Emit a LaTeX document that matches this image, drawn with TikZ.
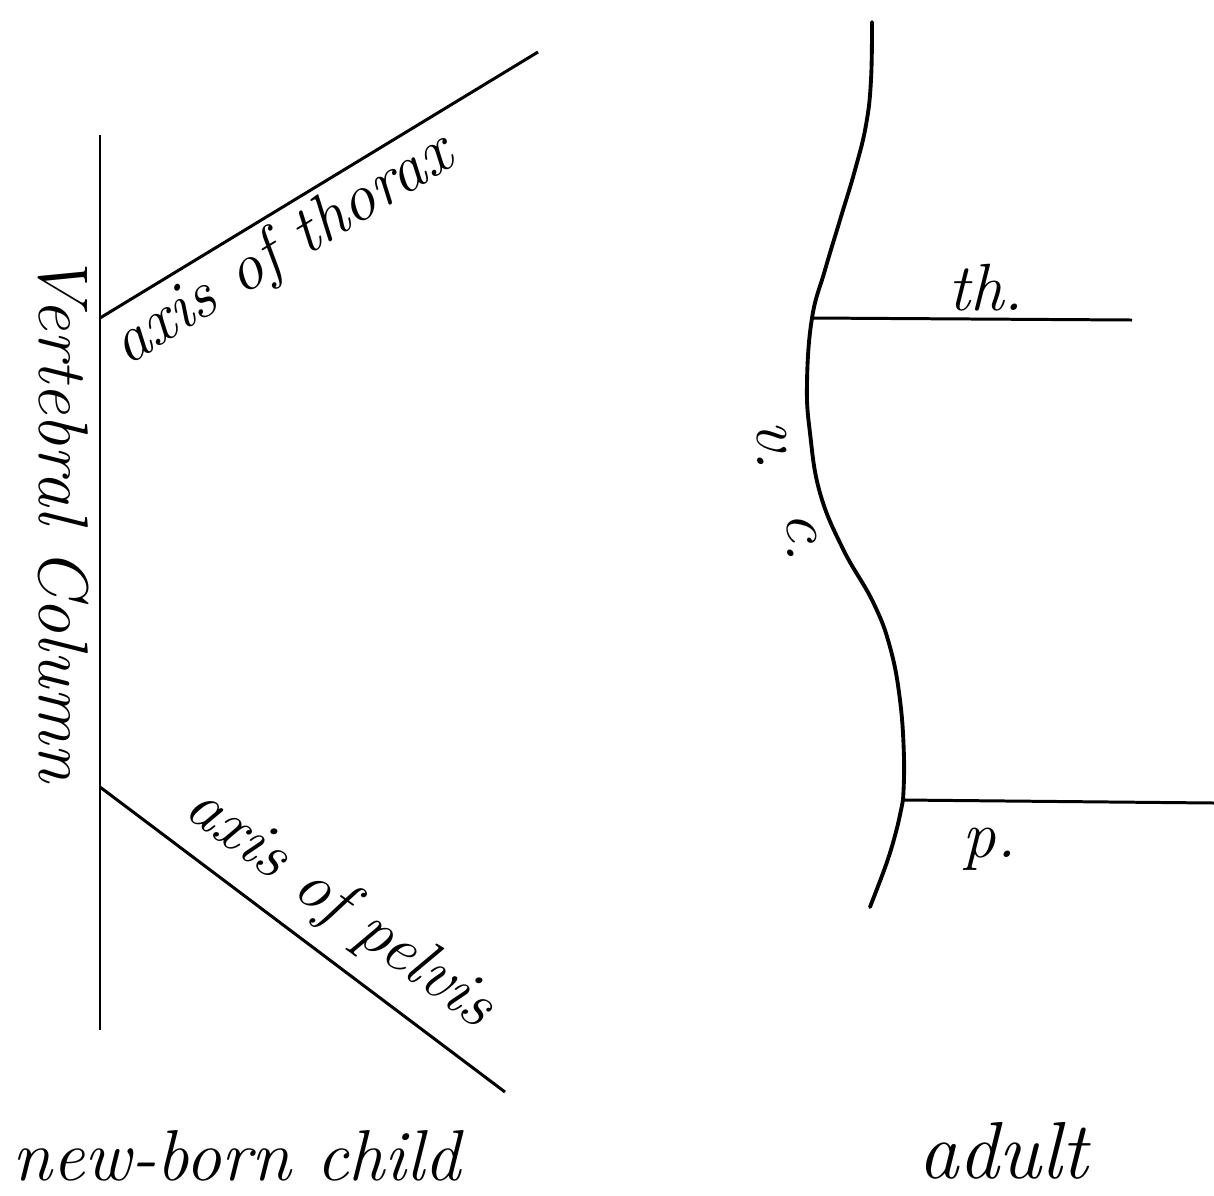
\documentclass[tikz,border=0pt]{standalone}
\usepackage{tikz}
\usetikzlibrary{positioning,calc}
\tikzset{
    axisline/.style={line width=0.85pt, color=black},
    spine/.style={line width=1.1pt, color=black, line cap=round},
    lbl/.style={font=\itshape\fontsize{19}{22}\selectfont, inner sep=0pt},
    caption/.style={font=\itshape\fontsize{20.5}{24}\selectfont, inner sep=0pt},
}

\begin{document}
\begin{tikzpicture}[x=0.01cm, y=-0.01cm]
    \useasboundingbox (0,0) rectangle (1214,1196);

    % New-born child: straight column
    \coordinate (vctop) at (100,135);
    \coordinate (vcbot) at (100,1030);
    \coordinate (thj) at (100,318);
    \coordinate (pvj) at (100,787);
    \coordinate (thend) at (538,52);
    \coordinate (pvend) at (505,1092);

    \draw[axisline] (vctop) -- (vcbot);
    \draw[axisline] (thj) -- (thend);
    \draw[axisline] (pvj) -- (pvend);

    \node[lbl, anchor=base west, rotate=-90, font=\itshape\fontsize{20}{22}\selectfont] (vclabel) at (40,252) {Vertebral Column};
    \node[lbl, anchor=base, rotate=31.5] (thlabel) at (292,265) {axis of thorax};
    \node[lbl, anchor=base, rotate=-36] (pvlabel) at (330,922) {axis of pelvis};
    \node[caption, anchor=base west] (child) at (12,1180) {new-born child};

    % Adult: curved column
    \coordinate (thjA) at (812,318);
    \coordinate (pvjA) at (903,800);
    \coordinate (thendA) at (1132,320);
    \coordinate (pvendA) at (1214,803);

    \draw[spine] plot[smooth, tension=0.7] coordinates {(872,22) (871,80) (866,125) (855,170) (840,220) (825,270) (812,318) (807,383) (810,433) (820,493) (843,549) (873,602) (890,647) (900,700) (904,758) (903,800)};
    \draw[spine] plot[smooth, tension=0.6] coordinates {(903,800) (897,828) (887,862) (870,907)};

    \draw[axisline] (thjA) -- (thendA);
    \draw[axisline] (pvjA) -- (pvendA);

    \node[lbl, anchor=base west] (th) at (948,310) {th.};
    \node[lbl, anchor=base west] (p) at (962,857) {p.};
    \node[lbl, anchor=base west, rotate=-90] (v) at (757,420) {v.};
    \node[lbl, anchor=base west, rotate=-90] (c) at (787,512) {c.};
    \node[caption, anchor=base, font=\itshape\fontsize{23}{26}\selectfont] (adult) at (1003,1178) {adult};
\end{tikzpicture}
\end{document}
